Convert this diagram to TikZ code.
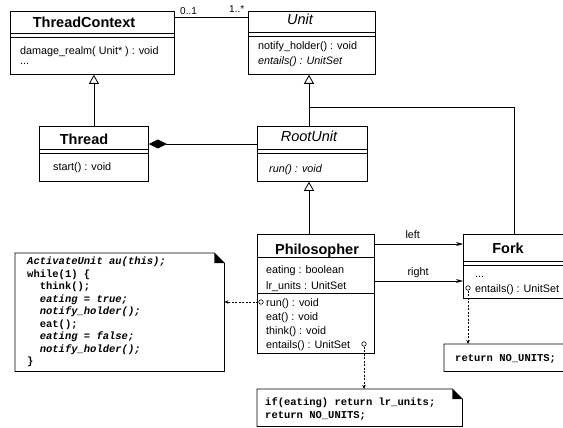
\documentclass[tikz,border=0pt]{standalone}
\usepackage{fontspec}
\setmainfont{Liberation Sans}
\setmonofont{Liberation Mono}
\usetikzlibrary{arrows.meta}

\tikzset{
  classbox/.style={draw, line width=0.8pt, anchor=north west, inner sep=0pt},
  notebox/.style={anchor=north west, inner sep=0pt},
  noteline/.style={line width=0.8pt},
  sep/.style={line width=0.8pt},
  classname/.style={font=\fontsize{14.5}{17}\selectfont\bfseries, anchor=base, inner sep=0pt},
  absname/.style={font=\fontsize{14.5}{17}\selectfont\itshape, anchor=base, inner sep=0pt},
  member/.style={font=\fontsize{10.8}{13}\selectfont, anchor=base west, inner sep=0pt},
  absmember/.style={member, font=\fontsize{10.8}{13}\selectfont\itshape},
  navlabel/.style={font=\fontsize{10.8}{13}\selectfont, anchor=base, inner sep=0pt, yshift=6pt},
  multlabel/.style={font=\fontsize{10}{12}\selectfont, anchor=base west, inner sep=0pt},
  codetext/.style={font=\fontsize{10.5}{12.5}\selectfont\ttfamily\bfseries, align=left, anchor=north west, inner sep=0pt},
  port/.style={draw, circle, fill=white, line width=0.6pt, minimum size=4.5pt, inner sep=0pt},
  inherit/.style={line width=0.8pt, -{Triangle[open, length=9pt, width=10pt]}},
  navig/.style={line width=0.8pt, -{Stealth[length=7pt, width=4pt]}},
  attach/.style={line width=0.8pt, dash pattern=on 2pt off 1.5pt, -{Stealth[length=4pt, width=3.5pt]}},
}

\begin{document}
\begin{tikzpicture}[x=1pt, y=-1pt]
\useasboundingbox (0,0) rectangle (563,428);
\clip (0,0) rectangle (563,428);

% ThreadContext
\node[classbox, minimum width=164pt, minimum height=63pt] (tc) at (10,11) {};
\draw[sep] (10,33) -- (174,33) (10,37) -- (174,37);
\node[classname] (tcname) at (84,28) {ThreadContext};
\node[member] (tcdamage) at (20,55) {damage\_realm( Unit* ) : void};
\node[member] (tcdots) at (20,65) {...};

% Unit
\node[classbox, minimum width=127pt, minimum height=63pt] (unit) at (248,11) {};
\draw[sep] (248,32) -- (375,32) (248,36) -- (375,36);
\node[absname] (unitname) at (300,25) {Unit};
\node[member] (unitnotify) at (258,50) {notify\_holder() : void};
\node[absmember] (unitentails) at (258,65) {entails() : UnitSet};

% Thread
\node[classbox, minimum width=109pt, minimum height=55pt] (thread) at (39,126) {};
\draw[sep] (39,149) -- (148,149) (39,153) -- (148,153);
\node[classname] (threadname) at (84,145) {Thread};
\node[member] (threadstart) at (53,171) {start() : void};

% RootUnit
\node[classbox, minimum width=110pt, minimum height=55pt] (root) at (257,126) {};
\draw[sep] (257,149) -- (367,149) (257,153) -- (367,153);
\node[absname] (rootname) at (309,142) {RootUnit};
\node[absmember] (rootrun) at (269,172) {run() : void};

% Philosopher
\node[classbox, minimum width=117pt, minimum height=119pt] (phil) at (257,234) {};
\draw[sep] (257,257) -- (374,257) (257,293) -- (374,293);
\node[classname] (philname) at (317,254) {Philosopher};
\node[member] (phileating) at (266,273) {eating : boolean};
\node[member] (philunits) at (266,289) {lr\_units : UnitSet};
\node[member] (philrun) at (266,306) {run() : void};
\node[member] (phileat) at (266,320) {eat() : void};
\node[member] (philthink) at (266,334) {think() : void};
\node[member] (philentails) at (266,348) {entails() : UnitSet};

% Fork
\node[classbox, minimum width=107pt, minimum height=64pt] (fork) at (463,234) {};
\draw[sep] (463,261) -- (570,261) (463,265) -- (570,265);
\node[classname] (forkname) at (508,253) {Fork};
\node[member] (forkdots) at (475,277) {...};
\node[member] (forkentails) at (475,292) {entails() : UnitSet};

% notes
\node[notebox, minimum width=209pt, minimum height=118pt] (runnote) at (15,253) {};
\draw[noteline] (runnote.north west) -- ([xshift=-10pt]runnote.north east) -- ([yshift=-10pt]runnote.north east) -- (runnote.south east) -- (runnote.south west) -- cycle;
\fill ([xshift=-10pt]runnote.north east) -- ([xshift=-10pt,yshift=-10pt]runnote.north east) -- ([yshift=-10pt]runnote.north east) -- cycle;
\node[codetext] (runcode) at (27,257) {\textit{ActivateUnit au(this);}\\
while(1) \{\\
\ \ think();\\
\ \ \textit{eating = true;}\\
\ \ \textit{notify\_holder();}\\
\ \ eat();\\
\ \ \textit{eating = false;}\\
\ \ \textit{notify\_holder();}\\
\}};

\node[notebox, minimum width=205pt, minimum height=37pt] (entailsnote) at (257,389) {};
\draw[noteline] (entailsnote.north west) -- ([xshift=-10pt]entailsnote.north east) -- ([yshift=-10pt]entailsnote.north east) -- (entailsnote.south east) -- (entailsnote.south west) -- cycle;
\fill ([xshift=-10pt]entailsnote.north east) -- ([xshift=-10pt,yshift=-10pt]entailsnote.north east) -- ([yshift=-10pt]entailsnote.north east) -- cycle;
\node[codetext] (entailscode) at (265,398) {if(eating) return lr\_units;\\
return NO\_UNITS;};

\node[notebox, minimum width=140pt, minimum height=27pt] (forknote) at (444,344) {};
\draw[noteline] (forknote.north west) -- ([xshift=-10pt]forknote.north east) -- ([yshift=-10pt]forknote.north east) -- (forknote.south east) -- (forknote.south west) -- cycle;
\node[codetext] (forkcode) at (455,354) {return NO\_UNITS;};

% ports
\node[port] (runport) at (261,302) {};
\node[port] (entailsport) at (364,344) {};
\node[port] (forkport) at (468,288) {};

% connectors
\draw[sep] ([yshift=-6pt]tc.north east) -- ([yshift=-6pt]unit.north west);
\node[multlabel] (tcmult) at (180,15) {0..1};
\node[multlabel] (unitmult) at (229,13) {1..*};

\draw[inherit] (thread.north) -- (thread.north |- tc.south);

\coordinate (spine) at (309,107);
\draw[inherit] (root.north -| spine) -- (unit.south -| spine);
\draw[inherit] (phil.north -| spine) -- (root.south -| spine);
\draw[sep] (spine) -| ([xshift=-3pt]fork.north);

\draw[sep, {Diamond[length=18pt, width=9pt]}-] ([yshift=-18pt]thread.north east) -- ([yshift=-18pt]root.north west);

\draw[navig] ([yshift=-10pt]phil.north east) -- ([yshift=-10pt]fork.north west) node[navlabel, pos=0.43] (leftlabel) {left};
\draw[navig] ([yshift=-47pt]phil.north east) -- ([yshift=-47pt]fork.north west) node[navlabel, pos=0.49] (rightlabel) {right};

\draw[attach] (runport) -- (runport -| runnote.east);
\draw[attach] (entailsport) -- (entailsport |- entailsnote.north);
\draw[attach] (forkport) -- (forkport |- forknote.north);
\end{tikzpicture}
\end{document}
